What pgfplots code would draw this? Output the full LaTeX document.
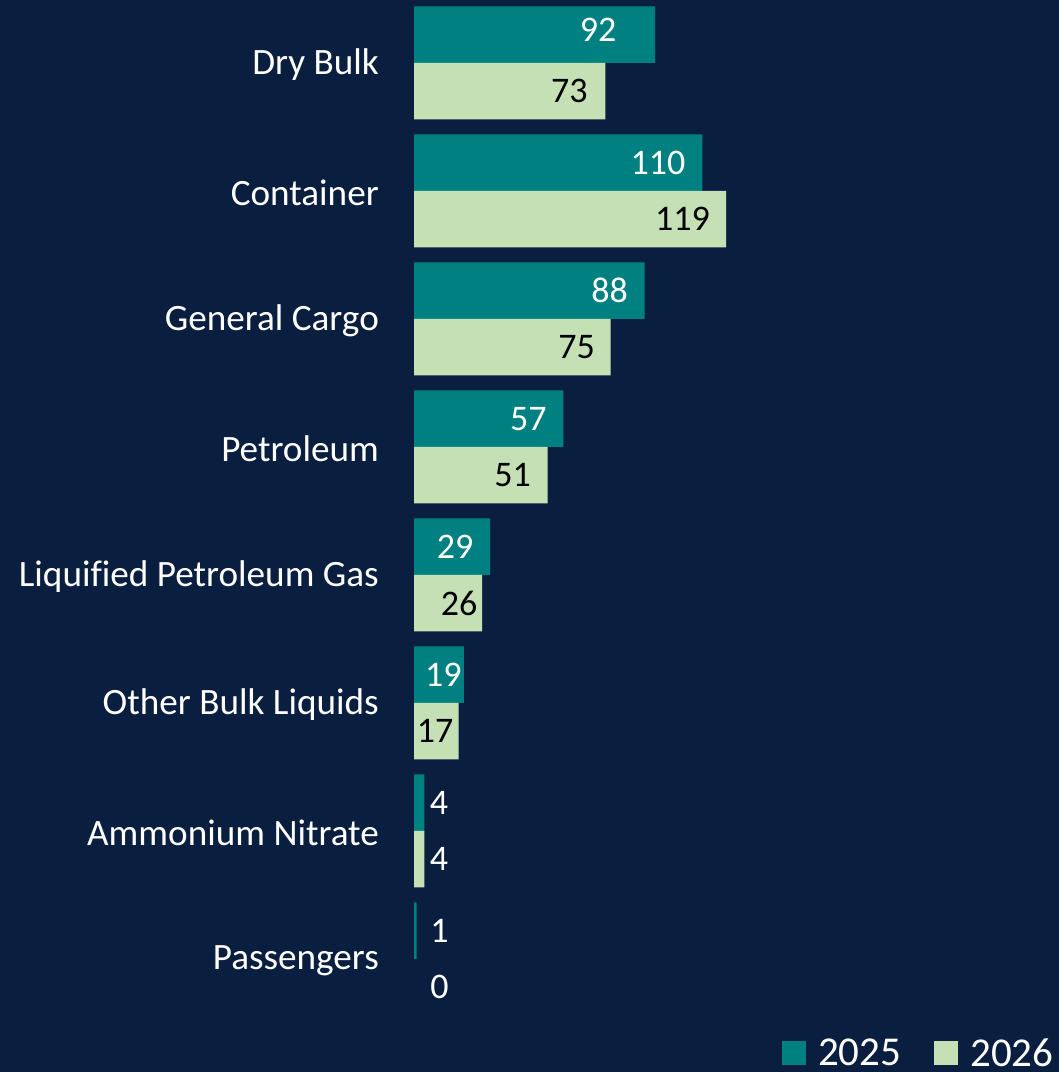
\documentclass[border=0pt]{standalone}
\usepackage{fontspec}
\setmainfont{Carlito}[Ligatures=CommonOff]
\usepackage{pgfplots}
\usepackage{pgfplotstable}
\pgfplotsset{compat=1.18}
\definecolor{bg}{RGB}{10,31,64}
\definecolor{cA}{RGB}{0,128,128}
\definecolor{cB}{RGB}{197,224,180}
\newcommand\lbl{\fontsize{36bp}{40bp}\selectfont}
\newcommand\cat{\fontsize{37.2bp}{40bp}\selectfont}
\newcommand\lgd{\fontsize{41bp}{44bp}\selectfont}
\pgfplotstableread{
y v dx dy c
7 92 -57 5 100
6 110 -44.5 0 100
5 88 -35 0 100
4 57 -35 0 100
3 29 -35 0 100
2 19 -20.5 0 100
1 4 14.5 0 100
0 1 23 0 100
}\tabA
\pgfplotstableread{
y v dx dy c
7 73 -36 0 0
6 119 -43.5 0 0
5 75 -34 0 0
4 51 -35 0 0
3 26 -23 0 0
2 17 -23.5 0 0
1 4 14.5 0 100
}\tabB
\pgfplotstableread{
y v dx dy c
0 0 25.5 0 100
}\tabBzero
\begin{document}
\begin{tikzpicture}
\fill[bg] (0,0) rectangle (1059bp,1072bp);
\useasboundingbox (0,0) rectangle (1059bp,1072bp);
\begin{axis}[
  at={(414bp,49bp)}, anchor=south west,
  scale only axis, width=645bp, height=1024bp,
  xmin=0, xmax=246, ymin=-0.5, ymax=7.5,
  xbar, bar width=56.5bp,
  axis line style={draw=none},
  xtick=\empty,
  ytick={0,...,7},
  yticklabels={Passengers, Ammonium Nitrate, Other Bulk Liquids, Liquified Petroleum Gas, Petroleum, General Cargo, {Container\hspace{8bp}}, Dry Bulk},
  major tick length=0pt,
  yticklabel style={text=white, font=\cat, inner sep=0pt, xshift=-35bp, yshift=-2bp},
  clip=false,
  /pgf/number format/assume math mode=true,
  nodes near coords,
  point meta=explicit,
  visualization depends on={\thisrow{dx}\as\dx},
  visualization depends on={\thisrow{dy}\as\dy},
  visualization depends on={\thisrow{c}\as\lc},
  every node near coord/.append style={anchor=center, xshift=\dx bp, yshift=\dy bp, text=white!\lc!black, font=\lbl, inner sep=0pt},
  legend columns=2,
  legend image code/.code={\fill[#1] (0bp,-12bp) rectangle (24bp,12bp);},
  legend style={at={(axis description cs:0.5705,-0.0293)}, anchor=west, draw=none, fill=none, inner sep=0pt,
    nodes={inner sep=0pt, text=white, font=\lgd},
    /tikz/every odd column/.append style={column sep=12bp},
    /tikz/every even column/.append style={column sep=33bp}},
]
\addplot[fill=cA, draw=none, bar shift=28.25bp] table[x=v, y=y, meta=v] {\tabA};
\addplot[fill=cB, draw=none, bar shift=-28.25bp] table[x=v, y=y, meta=v] {\tabB};
\addplot[fill=none, draw=none, bar shift=-28.25bp, forget plot] table[x=v, y=y, meta=v] {\tabBzero};
\legend{2025,2026}
\end{axis}
\end{tikzpicture}
\end{document}
